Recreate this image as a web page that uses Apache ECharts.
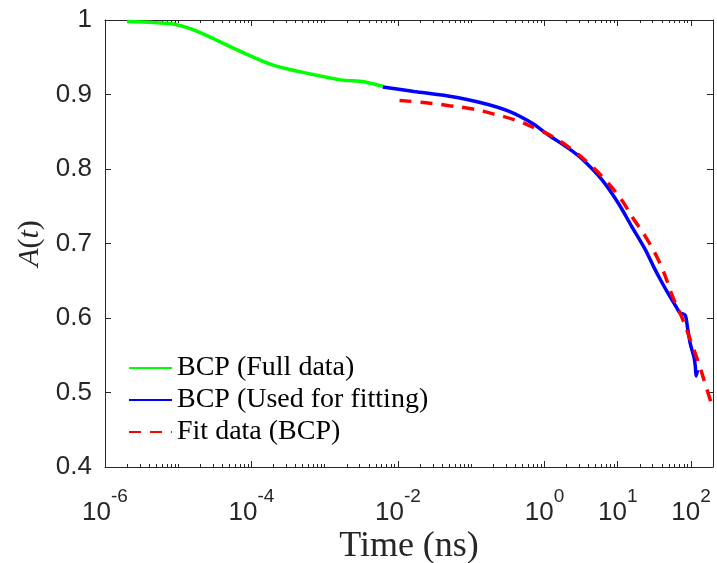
<!DOCTYPE html>
<html><head><meta charset="utf-8">
<script src="https://cdn.jsdelivr.net/npm/echarts@6/dist/echarts.min.js"></script>
<style>html,body{margin:0;padding:0;background:#fff}#c{width:717px;height:563px}</style>
</head><body><div id="c"></div>
<script>
// ---- data ----
const seriesNames = ['BCP (Full data)', 'BCP (Used for fitting)', 'Fit data (BCP)'];

const fullTime = [2.0e-6, 8.1e-6, 1.3e-5, 2.0e-5, 1.9e-4, 1.55e-3, 3.4e-3, 6.2e-3];
const fullA    = [0.998, 0.995, 0.990, 0.983, 0.940, 0.920, 0.917, 0.911];

const usedTime = [6.2e-3, 0.0166, 0.048, 0.137, 0.318, 0.664, 1.12, 2.11, 3.21, 6.03, 10.2, 15.5, 23.7, 30.9, 38.0, 46.8, 64.6, 70.8, 83.2, 89.1, 97.7, 109.6, 114.8, 117.5, 123.0];
const usedA    = [0.910, 0.904, 0.898, 0.889, 0.878, 0.862, 0.846, 0.828, 0.814, 0.786, 0.754, 0.723, 0.692, 0.669, 0.652, 0.636, 0.613, 0.607, 0.604, 0.589, 0.566, 0.548, 0.535, 0.522, 0.530];

const fitTime = [0.0105, 0.024, 0.050, 0.10, 0.20, 0.39, 0.74, 1.38, 2.45, 4.17, 7.08, 11.2, 16.2, 23.7, 33.9, 44.7, 55.0, 75.9, 97.7, 126, 155, 200];
const fitA    = [0.892, 0.889, 0.885, 0.881, 0.874, 0.866, 0.855, 0.842, 0.825, 0.806, 0.783, 0.759, 0.734, 0.710, 0.683, 0.656, 0.631, 0.600, 0.571, 0.541, 0.513, 0.478];

const xMajorTicks = [1e-6, 1e-4, 1e-2, 1, 10, 100];
const yTicks = [0.4, 0.5, 0.6, 0.7, 0.8, 0.9, 1];

// ---- helpers ----
const AX = '#262626';
const X_MIN = 1e-6, X_MAX = 200;
const xMinorTicks = [];
for (let d = -6; d <= 2; d++) {
  for (let k = 1; k <= 9; k++) {
    const v = parseFloat((k * Math.pow(10, d)).toPrecision(6));
    if (v > X_MAX) continue;
    if (k === 1 && xMajorTicks.indexOf(v) >= 0) continue;
    xMinorTicks.push(v);
  }
}
function pairs(xs, ys) { return xs.map((x, i) => [x, ys[i]]); }

function xAxisCfg(pos, ticks, len, line, labels) {
  return {
    type: 'log', logBase: 10, min: X_MIN, max: X_MAX, position: pos,
    axisLine: { show: line, onZero: false, lineStyle: { color: AX, width: 1 } },
    axisTick: { show: true, inside: true, length: len, customValues: ticks, lineStyle: { color: AX, width: 1 } },
    axisLabel: {
      show: labels, customValues: xMajorTicks, margin: 20,
      formatter: function (v) {
        const e = Math.round(Math.log10(v));
        return '{b|10}{s|' + e + '}';
      },
      rich: {
        b: { fontFamily: 'Liberation Sans', fontSize: 26, color: AX, lineHeight: 39, verticalAlign: 'bottom' },
        s: { fontFamily: 'Liberation Sans', fontSize: 19, color: AX, lineHeight: 18, verticalAlign: 'top' }
      }
    },
    splitLine: { show: false }
  };
}
function yAxisCfg(pos, labels) {
  return {
    type: 'value', min: 0.4, max: 1, interval: 0.1, position: pos,
    axisLine: { show: true, onZero: false, lineStyle: { color: AX, width: 1 } },
    axisTick: { show: true, inside: true, length: 6, lineStyle: { color: AX, width: 1 } },
    axisLabel: { show: labels, margin: 13, color: AX, fontFamily: 'Liberation Sans', fontSize: 26,
      formatter: function (v) { return String(parseFloat(v.toFixed(1))); } },
    splitLine: { show: false }
  };
}

const xBottom = xAxisCfg('bottom', xMajorTicks, 6, true, true);
xBottom.name = 'Time (ns)';
xBottom.nameLocation = 'middle';
xBottom.nameGap = 62;
xBottom.nameMoveOverlap = false;
xBottom.nameTextStyle = { fontFamily: 'Liberation Serif', fontSize: 36, color: AX };

const yLeft = yAxisCfg('left', true);
yLeft.name = '{i|A}{r|(}{i|t}{r|)}';
yLeft.nameLocation = 'middle';
yLeft.nameGap = 60;
yLeft.nameMoveOverlap = false;
yLeft.nameTextStyle = {
  rich: {
    i: { fontFamily: 'Liberation Serif', fontStyle: 'italic', fontSize: 30, color: AX },
    r: { fontFamily: 'Liberation Serif', fontSize: 30, color: AX }
  }
};

const chart = echarts.init(document.getElementById('c'), null, { renderer: 'canvas' });
chart.setOption({
  animation: false,
  backgroundColor: '#fff',
  grid: { left: 105, top: 20, width: 608, height: 447, containLabel: false, outerBoundsMode: 'none' },
  xAxis: [
    xBottom,
    xAxisCfg('bottom', xMinorTicks, 3, false, false),
    xAxisCfg('top', xMajorTicks, 6, true, false),
    xAxisCfg('top', xMinorTicks, 3, false, false)
  ],
  yAxis: [yLeft, yAxisCfg('right', false)],
  legend: {
    orient: 'vertical', left: 128, top: 354, padding: 0, itemWidth: 43, itemHeight: 20, itemGap: 4,
    itemStyle: { opacity: 0 },
    textStyle: { fontFamily: 'Liberation Serif', fontSize: 28, color: '#000' },
    data: seriesNames
  },
  series: [
    { name: seriesNames[0], type: 'line', xAxisIndex: 0, yAxisIndex: 0, data: pairs(fullTime, fullA),
      smooth: 0.25, symbol: 'none', lineStyle: { color: '#00ff00', width: 3.5 }, itemStyle: { color: '#00ff00' } },
    { name: seriesNames[1], type: 'line', xAxisIndex: 0, yAxisIndex: 0, data: pairs(usedTime, usedA),
      smooth: 0.3, symbol: 'none', lineStyle: { color: '#0000ff', width: 3.5 }, itemStyle: { color: '#0000ff' } },
    { name: seriesNames[2], type: 'line', xAxisIndex: 0, yAxisIndex: 0, data: pairs(fitTime, fitA),
      smooth: 0.4, symbol: 'none', lineStyle: { color: '#ff0000', width: 3.5, type: [12, 9] }, itemStyle: { color: '#ff0000' } }
  ]
});
</script>
</body></html>
